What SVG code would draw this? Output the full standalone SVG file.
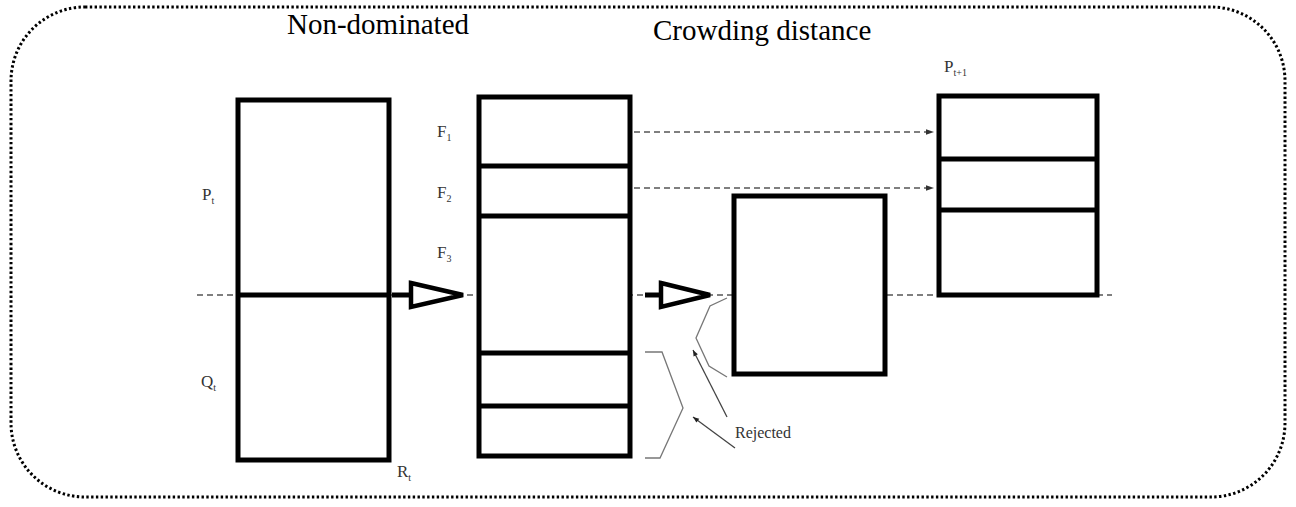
<svg xmlns="http://www.w3.org/2000/svg" width="1296" height="507" viewBox="0 0 1296 507">
  <defs>
    <marker id="head" viewBox="0 0 10 10" refX="10" refY="5" markerWidth="8" markerHeight="6" orient="auto" markerUnits="userSpaceOnUse">
      <path d="M0,1 L10,5 L0,9 Z" fill="#222"/>
    </marker>
    <marker id="headSmall" viewBox="0 0 10 10" refX="10" refY="5" markerWidth="14" markerHeight="8" orient="auto" markerUnits="userSpaceOnUse">
      <path d="M0,1.5 L10,5 L0,8.5 Z" fill="#333"/>
    </marker>
  </defs>
  <style>
    .frame { fill: none; stroke: #000; stroke-width: 3; stroke-dasharray: 2.4 2.4; }
    .box { fill: #fff; stroke: #000; stroke-width: 5; }
    .div { stroke: #000; stroke-width: 5; }
    .axis { stroke: #555; stroke-width: 1.5; stroke-dasharray: 6 4; fill: none; }
    .flow { stroke: #555; stroke-width: 1.5; stroke-dasharray: 6 4; fill: none; }
    .brace { stroke: #777; stroke-width: 1.3; fill: none; }
    .pointer { stroke: #444; stroke-width: 1.3; fill: none; }
    .shaft { stroke: #000; stroke-width: 5; }
    .tri { fill: #fff; stroke: #000; stroke-width: 4.5; stroke-linejoin: miter; }
    text { font-family: 'Liberation Serif', 'DejaVu Serif', serif; }
    .title { font-size: 29px; fill: #000; }
    .lbl { font-size: 17px; fill: #333; }
    .sub { font-size: 10px; }
    .note { font-size: 16px; fill: #333; }
  </style>

  <rect class="frame" x="11" y="7" width="1274" height="490" rx="74" ry="74"/>

  <text class="title" x="287" y="34">Non-dominated</text>
  <text class="title" x="653" y="40">Crowding distance</text>

  <!-- connectors -->
  <g id="connectors">
    <line class="axis" x1="197" y1="295" x2="1112" y2="295"/>
    <line class="flow" x1="634" y1="132" x2="934" y2="132" marker-end="url(#headSmall)"/>
    <line class="flow" x1="634" y1="188" x2="934" y2="188" marker-end="url(#headSmall)"/>
    <!-- hollow arrows -->
    <line class="shaft" x1="392" y1="295" x2="412" y2="295"/>
    <polygon class="tri" points="411,283 463,295 411,307"/>
    <line class="shaft" x1="645" y1="295" x2="662" y2="295"/>
    <polygon class="tri" points="661,283 710,295 661,307"/>
    <!-- rejected markers -->
    <polyline class="brace" points="727,298 710,306 696,338 709,366 727,377"/>
    <polyline class="brace" points="645,352 662,352 683,408 660,458 645,458"/>
    <line class="pointer" x1="727" y1="417" x2="693" y2="350" marker-end="url(#head)"/>
    <line class="pointer" x1="735" y1="448" x2="693" y2="417" marker-end="url(#head)"/>
  </g>

  <g id="node-Rt">
    <rect class="box" x="238" y="100" width="151" height="360"/>
    <line class="div" x1="238" y1="295" x2="389" y2="295"/>
    <text class="lbl" x="202" y="200">P<tspan class="sub" dy="4">t</tspan></text>
    <text class="lbl" x="201" y="387">Q<tspan class="sub" dy="4">t</tspan></text>
    <text class="lbl" x="397" y="477">R<tspan class="sub" dy="4">t</tspan></text>
  </g>

  <g id="node-fronts">
    <rect class="box" x="479" y="97" width="151" height="359"/>
    <line class="div" x1="479" y1="166" x2="630" y2="166"/>
    <line class="div" x1="479" y1="216" x2="630" y2="216"/>
    <line class="div" x1="479" y1="353" x2="630" y2="353"/>
    <line class="div" x1="479" y1="406" x2="630" y2="406"/>
    <text class="lbl" x="437" y="137">F<tspan class="sub" dy="4">1</tspan></text>
    <text class="lbl" x="437" y="198">F<tspan class="sub" dy="4">2</tspan></text>
    <text class="lbl" x="437" y="258">F<tspan class="sub" dy="4">3</tspan></text>
  </g>

  <g id="node-crowding">
    <rect class="box" x="734" y="196" width="151" height="178"/>
  </g>

  <g id="node-next">
    <rect class="box" x="939" y="96" width="158" height="199"/>
    <line class="div" x1="939" y1="159" x2="1097" y2="159"/>
    <line class="div" x1="939" y1="210" x2="1097" y2="210"/>
    <text class="lbl" x="944" y="72">P<tspan class="sub" dy="4">t+1</tspan></text>
  </g>

  <g id="label-rejected">
    <text class="note" x="735" y="438">Rejected</text>
  </g>
</svg>
